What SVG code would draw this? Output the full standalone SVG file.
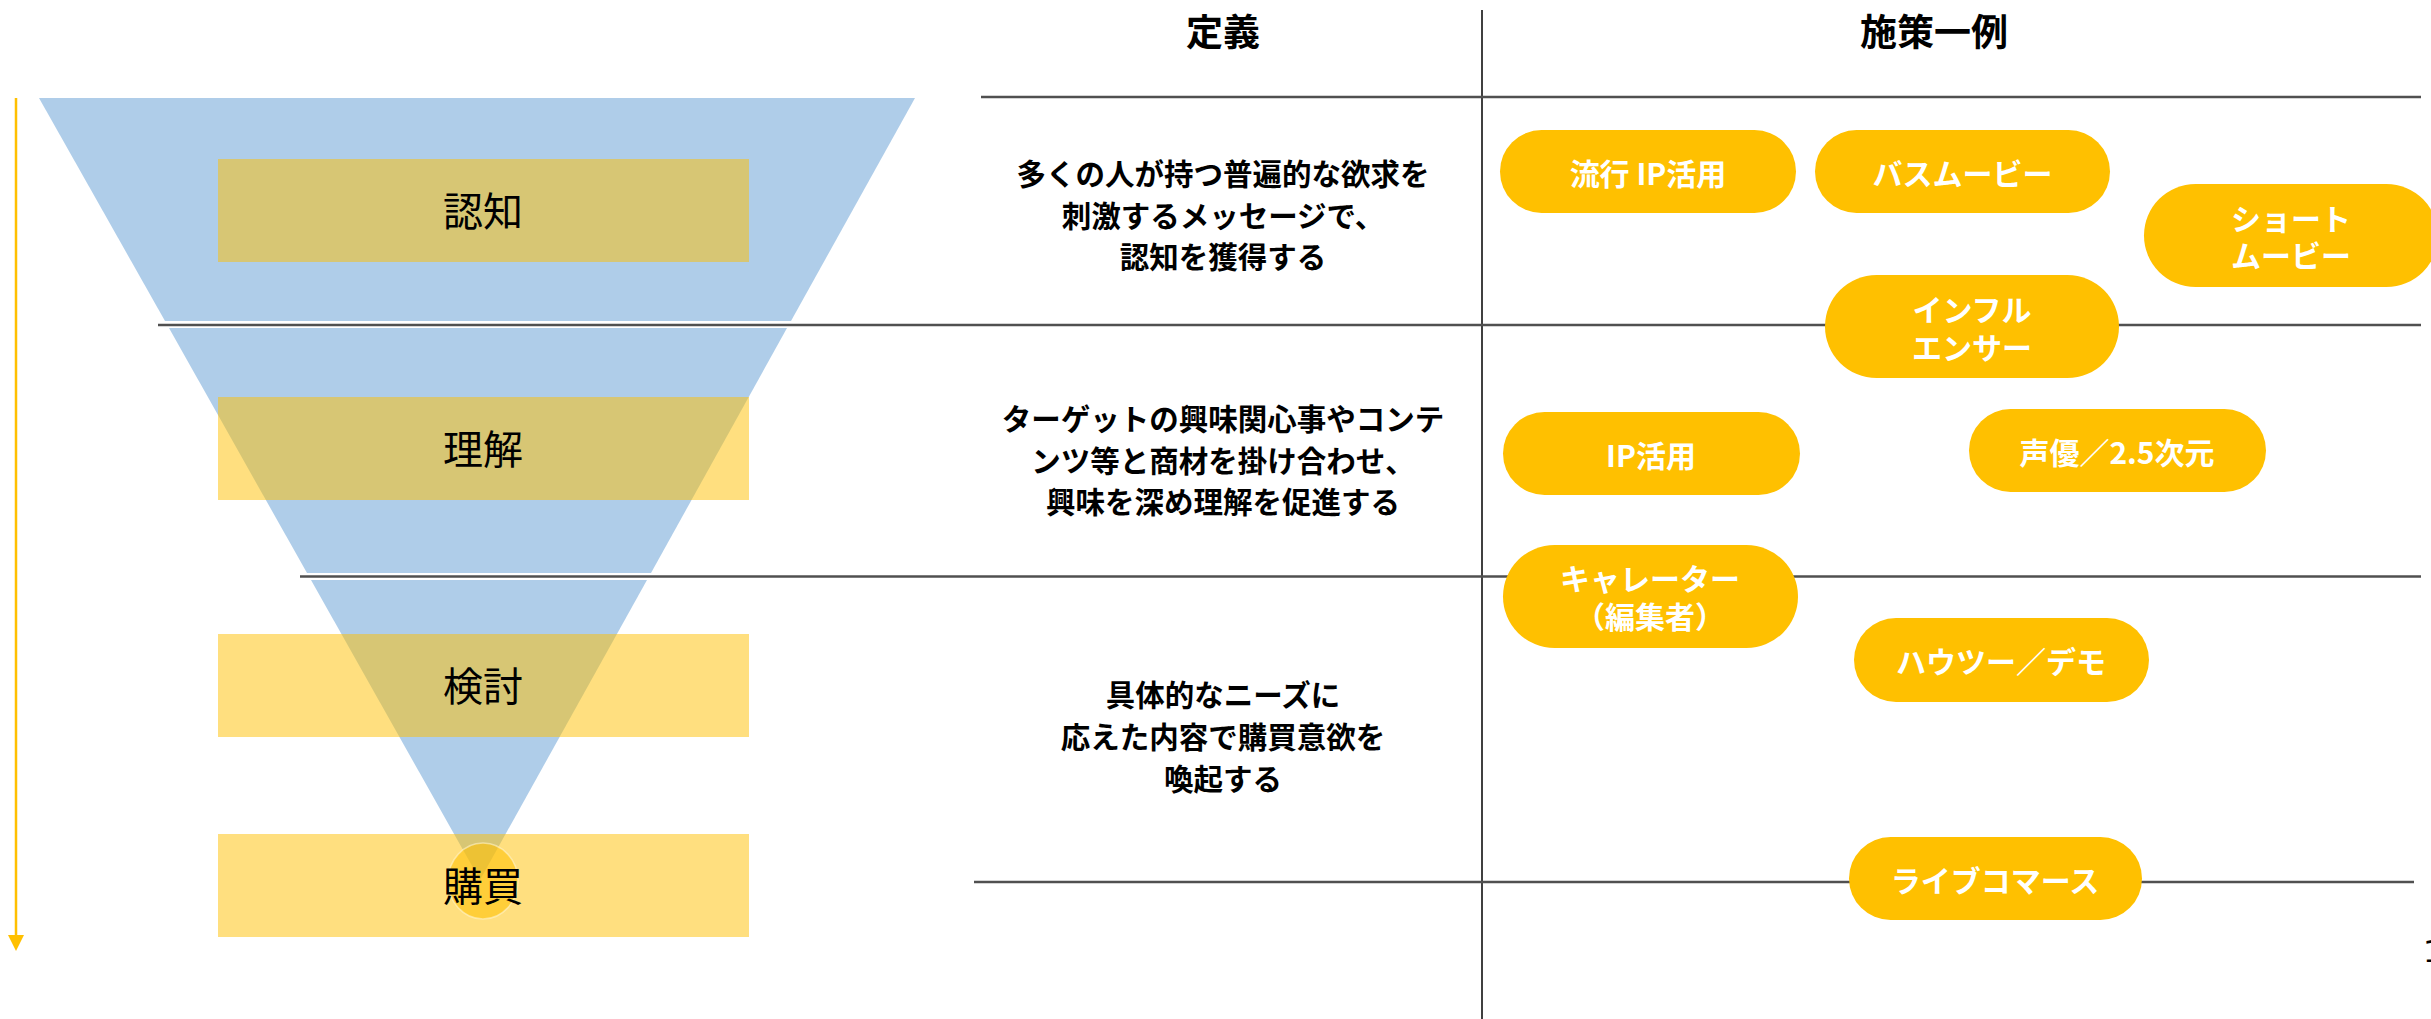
<svg xmlns="http://www.w3.org/2000/svg" width="2431" height="1019" viewBox="0 0 2431 1019">
  <defs>
    <style>
      .funnel { fill: #AFCDE9; }
      .stage { fill: #FFC000; fill-opacity: 0.5; }
      .stage-label { font-family: "Noto Sans CJK JP", "Noto Sans", sans-serif; font-size: 40px; fill: #000; text-anchor: middle; dominant-baseline: central; }
      .header { font-family: "Noto Sans CJK JP", "Noto Sans", sans-serif; font-size: 37px; font-weight: 700; fill: #000; text-anchor: middle; dominant-baseline: central; }
      .def { font-family: "Noto Sans CJK JP", "Noto Sans", sans-serif; font-size: 29.5px; font-weight: 700; fill: #000; text-anchor: middle; dominant-baseline: central; }
      .pill { fill: #FFC000; }
      .pill-text { font-family: "Noto Sans CJK JP", "Noto Sans", sans-serif; font-size: 30px; font-weight: 700; fill: #FFFFFF; text-anchor: middle; dominant-baseline: central; }
      .grid { stroke: #505050; stroke-width: 2.5; fill: none; }
      .vgrid { stroke: #000; stroke-width: 1.5; fill: none; }
    </style>
    <marker id="arrowhead" markerWidth="16" markerHeight="16" refX="2" refY="8" orient="auto" markerUnits="userSpaceOnUse" viewBox="0 0 16 16">
      <path d="M0,0 L16,8 L0,16 Z" fill="#FFC000"/>
    </marker>
  </defs>

  <rect x="0" y="0" width="2431" height="1019" fill="#FFFFFF"/>

  <!-- funnel -->
  <g id="funnel">
    <polygon class="funnel" points="39,98 915,98 791,321 165,321"/>
    <polygon class="funnel" points="169,328 787,328 651,573 307,573"/>
    <polygon class="funnel" points="311,580 647,580 480,880"/>
  </g>

  <!-- stages -->
  <g id="stage-awareness">
    <rect class="stage" x="218" y="159" width="531" height="103"/>
    <text class="stage-label" x="483" y="209">認知</text>
  </g>
  <g id="stage-understanding">
    <rect class="stage" x="218" y="397" width="531" height="103"/>
    <text class="stage-label" x="483" y="447">理解</text>
  </g>
  <g id="stage-consideration">
    <rect class="stage" x="218" y="634" width="531" height="103"/>
    <text class="stage-label" x="483" y="684">検討</text>
  </g>
  <g id="stage-purchase">
    <rect class="stage" x="218" y="834" width="531" height="103"/>
    <ellipse cx="483" cy="881" rx="35" ry="38" fill="#FFC000" fill-opacity="0.55" stroke="#FFF3C8" stroke-opacity="0.6" stroke-width="1.5"/>
    <text class="stage-label" x="483" y="884">購買</text>
  </g>

  <!-- connectors / grid lines -->
  <g id="connectors">
    <line x1="16" y1="98" x2="16" y2="937" stroke="#FFC000" stroke-width="2.5" marker-end="url(#arrowhead)"/>
    <line class="vgrid" x1="1482" y1="10" x2="1482" y2="1019"/>
    <line class="grid" x1="981" y1="97" x2="2421" y2="97"/>
    <line class="grid" x1="158" y1="325" x2="2421" y2="325"/>
    <line class="grid" x1="300" y1="576.5" x2="2421" y2="576.5"/>
    <line class="grid" x1="974" y1="882" x2="2414" y2="882"/>
  </g>

  <!-- headers -->
  <g id="header-definition">
    <text class="header" x="1223" y="30">定義</text>
  </g>
  <g id="header-examples">
    <text class="header" x="1934" y="30">施策一例</text>
  </g>

  <!-- definitions -->
  <g id="def-awareness">
    <text class="def" x="1223" y="172">多くの人が持つ普遍的な欲求を</text>
    <text class="def" x="1223" y="213.5">刺激するメッセージで、</text>
    <text class="def" x="1223" y="255">認知を獲得する</text>
  </g>
  <g id="def-understanding">
    <text class="def" x="1223" y="417">ターゲットの興味関心事やコンテ</text>
    <text class="def" x="1223" y="458.5">ンツ等と商材を掛け合わせ、</text>
    <text class="def" x="1223" y="500">興味を深め理解を促進する</text>
  </g>
  <g id="def-consideration">
    <text class="def" x="1223" y="693">具体的なニーズに</text>
    <text class="def" x="1223" y="735">応えた内容で購買意欲を</text>
    <text class="def" x="1223" y="777">喚起する</text>
  </g>

  <!-- example pills -->
  <g id="pill-trend-ip">
    <rect class="pill" x="1500" y="130" width="296" height="83" rx="41.5"/>
    <text class="pill-text" x="1648" y="171.5">流行 IP活用</text>
  </g>
  <g id="pill-buzz-movie">
    <rect class="pill" x="1815" y="130" width="295" height="83" rx="41.5"/>
    <text class="pill-text" x="1962.5" y="171.5">バスムービー</text>
  </g>
  <g id="pill-short-movie">
    <rect class="pill" x="2144" y="184" width="294" height="103" rx="51.5"/>
    <text class="pill-text" x="2291" y="217">ショート</text>
    <text class="pill-text" x="2291" y="254">ムービー</text>
  </g>
  <g id="pill-influencer">
    <rect class="pill" x="1825" y="275" width="294" height="103" rx="51.5"/>
    <text class="pill-text" x="1972" y="307.5">インフル</text>
    <text class="pill-text" x="1972" y="345.5">エンサー</text>
  </g>
  <g id="pill-ip">
    <rect class="pill" x="1503" y="412" width="297" height="83" rx="41.5"/>
    <text class="pill-text" x="1651" y="453.5">IP活用</text>
  </g>
  <g id="pill-voice-actor">
    <rect class="pill" x="1969" y="409" width="297" height="83" rx="41.5"/>
    <text class="pill-text" x="2117" y="450.5">声優／2.5次元</text>
  </g>
  <g id="pill-curator">
    <rect class="pill" x="1503" y="545" width="295" height="103" rx="51.5"/>
    <text class="pill-text" x="1650" y="577">キャレーター</text>
    <text class="pill-text" x="1650" y="615">（編集者）</text>
  </g>
  <g id="pill-howto">
    <rect class="pill" x="1854" y="618" width="295" height="84" rx="42"/>
    <text class="pill-text" x="2001" y="660">ハウツー／デモ</text>
  </g>
  <g id="pill-live-commerce">
    <rect class="pill" x="1849" y="837" width="293" height="83" rx="41.5"/>
    <text class="pill-text" x="1995" y="878.5">ライブコマース</text>
  </g>

  <text x="2423" y="962" font-family="DejaVu Sans, sans-serif" font-size="31" fill="#000">1</text>
</svg>
